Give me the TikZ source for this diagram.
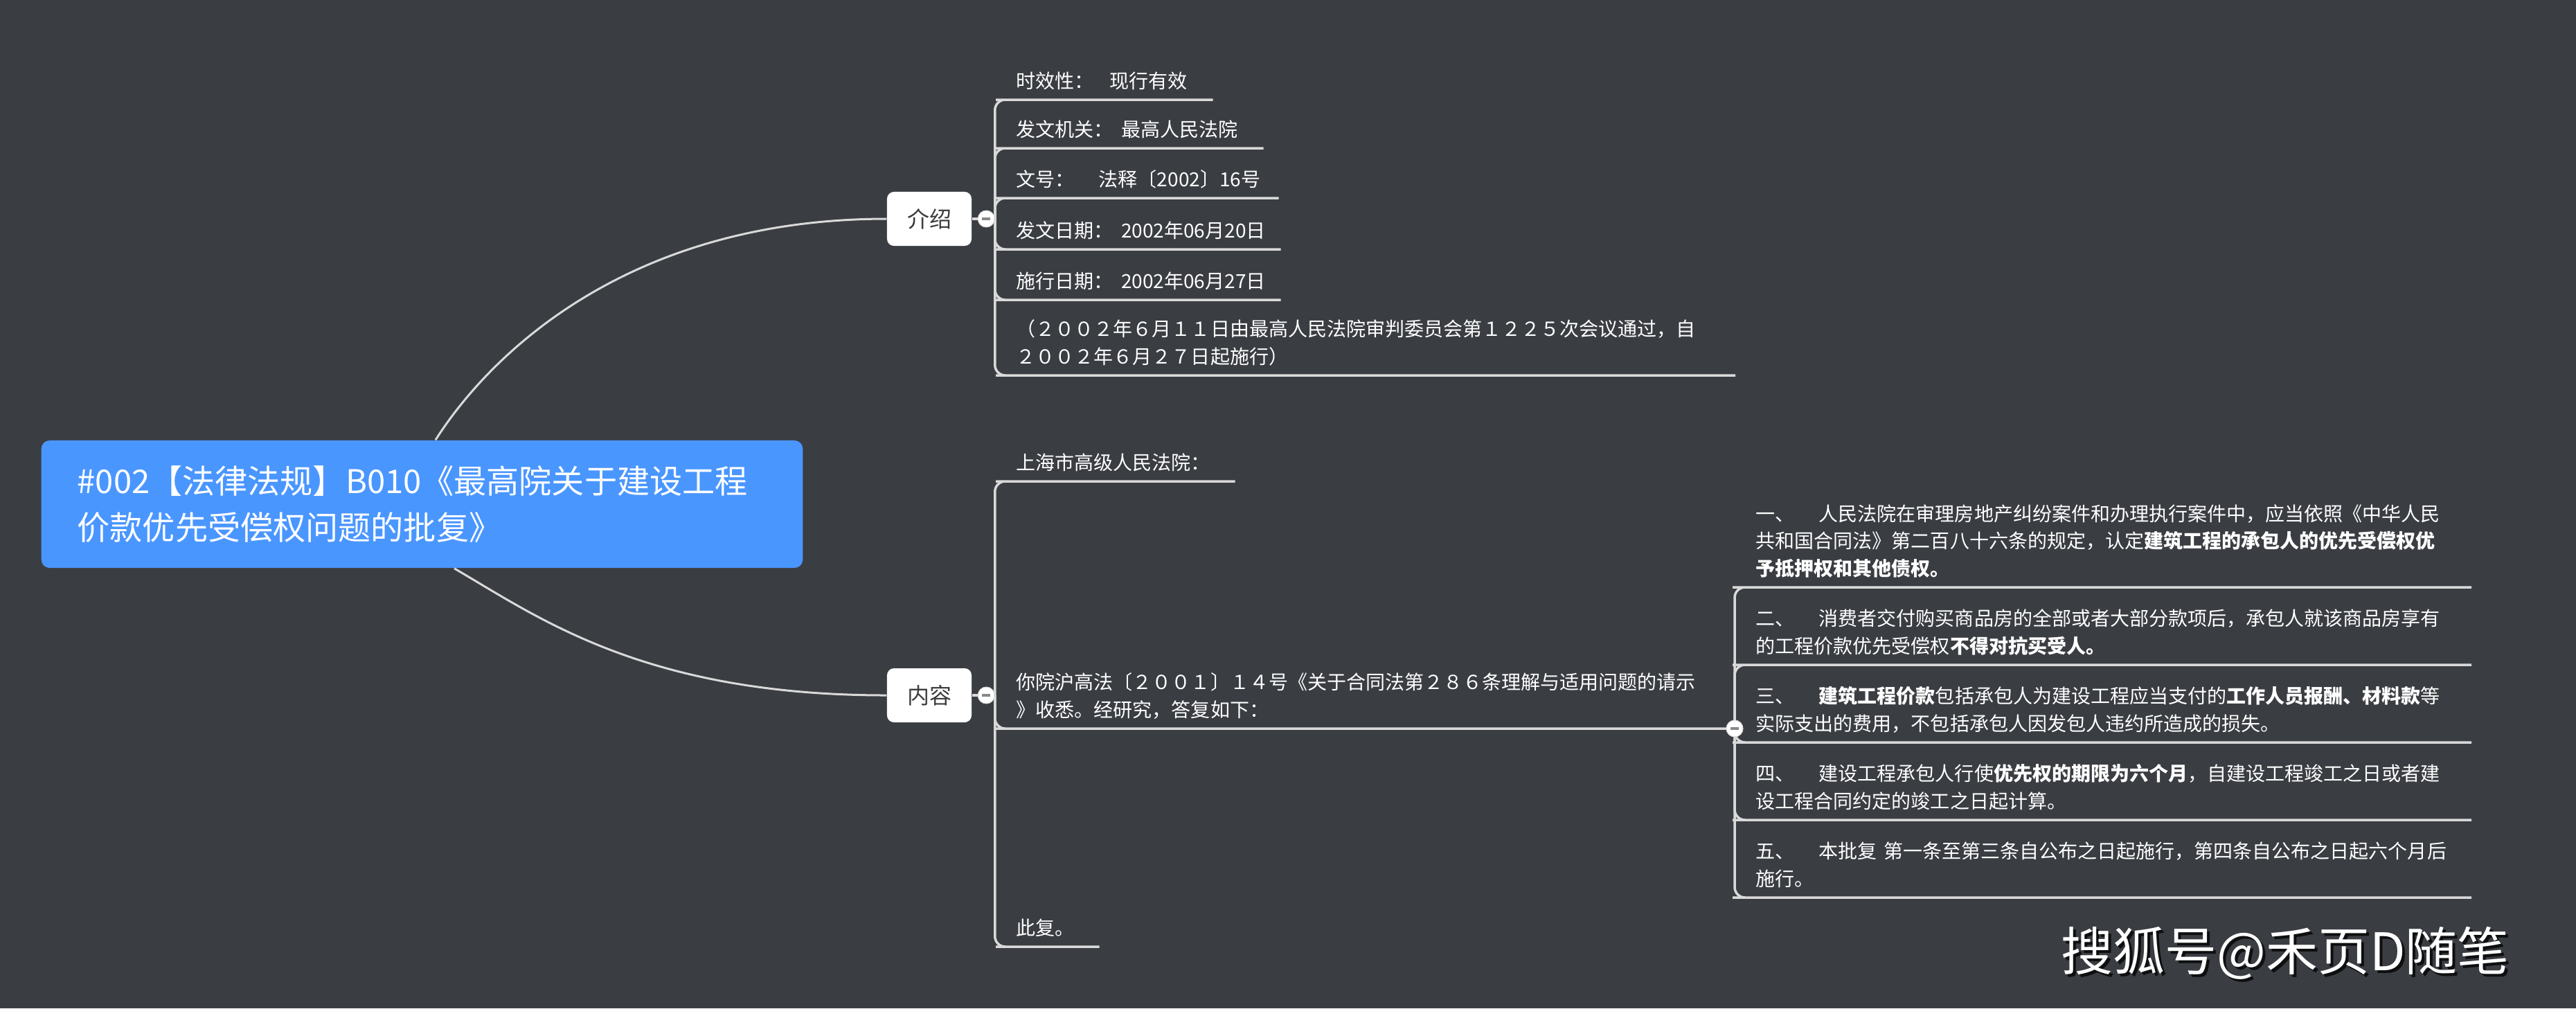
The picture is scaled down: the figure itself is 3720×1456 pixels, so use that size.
\documentclass[tikz,border=0pt]{standalone}
\usepackage{fontspec}
\setmainfont{Noto Sans CJK SC}
\usetikzlibrary{positioning,calc}
\definecolor{canvas}{RGB}{58,61,66}
\definecolor{rootblue}{RGB}{74,150,255}
\definecolor{linegray}{RGB}{217,217,217}
\definecolor{topictext}{RGB}{60,60,60}
\definecolor{dashgray}{RGB}{136,136,136}
\newcommand{\leaffont}{\fontsize{7.97pt}{11.24pt}\selectfont}
\newcommand{\foldbar}{\textcolor{dashgray}{\rule{0.12cm}{0.035cm}}}
\tikzset{
  root/.style={rectangle,rounded corners=0.12cm,fill=rootblue,text=white,
    text width=9.95cm,align=left,minimum height=1.84cm,inner xsep=0.52cm,inner ysep=0pt,
    font=\fontsize{13.4pt}{19.06pt}\selectfont},
  topic/.style={rectangle,rounded corners=0.1cm,fill=white,text=topictext,
    minimum width=1.22cm,minimum height=0.78cm,inner sep=0pt,
    font=\fontsize{9.1pt}{11pt}\selectfont},
  fold/.style={circle,fill=white,draw=linegray,line width=0.01cm,minimum size=0.24cm,inner sep=0pt},
  leaf/.style={anchor=south west,align=left,text=white,inner xsep=0.14cm,inner ysep=0.04cm,
    font=\leaffont,execute at end node=\strut},
  subleaf/.style={leaf,inner xsep=0.18cm,text width=10.14cm},
  link/.style={draw=linegray,line width=0.035cm},
  elbow/.style={rounded corners=0.15cm,
    to path={|- (\tikztotarget.south west) -- (\tikztotarget.south east)}},
  curve/.style={draw=linegray,line width=0.03cm},
  stamp/.style={font=\fontsize{21.3pt}{24pt}\selectfont,text=white,inner sep=0pt}
}
\begin{document}
\begin{tikzpicture}[x=0.01cm,y=-0.01cm]
\fill[canvas] (0,0) rectangle (3720,1456);
% central topic and the two branches
\node[root] (root) at (609.5,728) {\#002【法律法规】B010《最高院关于建设工程\\价款优先受偿权问题的批复》};
\node[topic] (intro) at (1342,316) {介绍};
\node[topic] (body) at (1342,1004) {内容};
\node[fold,right=0.08cm of intro] (intro-fold) {\foldbar};
\node[fold,right=0.08cm of body] (body-fold) {\foldbar};
\path[curve] ($(root.north west)+(570,0)$) .. controls +(80,-126) and +(-371,0) .. (intro.west);
\path[curve] ($(root.south west)+(597,0)$) .. controls +(121.5,70.5) and +(-350,0) .. (body.west);
\path[link] (intro) -- (intro-fold) (body) -- (body-fold);
% 介绍
\node[leaf,text width=2.69cm] (c1) at (1453,144) {时效性：\kern0.8em 现行有效};
\node[leaf,text width=3.42cm] (c2) at (1453,214) {发文机关：\kern0.4em 最高人民法院};
\node[leaf,text width=3.64cm] (c3) at (1453,286) {文号：\kern1.25em 法释〔2002〕16号};
\node[leaf,text width=3.67cm] (c4) at (1453,360) {发文日期：\kern0.4em 2002年06月20日};
\node[leaf,text width=3.67cm] (c5) at (1453,433) {施行日期：\kern0.4em 2002年06月27日};
\node[leaf,text width=10.23cm] (c6) at (1453,542) {（２００２年６月１１日由最高人民法院审判委员会第１２２５次会议通过，自\\２００２年６月２７日起施行）};
\path[link] (intro-fold.east)
  edge[elbow] (c1) edge[elbow] (c2) edge[elbow] (c3)
  edge[elbow] (c4) edge[elbow] (c5) edge[elbow] (c6);
% 内容
\node[leaf,text width=3.01cm] (d1) at (1453,695) {上海市高级人民法院：};
\node[leaf,text width=10.22cm] (d2) at (1453,1052) {你院沪高法〔２００１〕１４号《关于合同法第２８６条理解与适用问题的请示\\》收悉。经研究，答复如下：};
\node[leaf,text width=1.05cm] (d3) at (1453,1367) {此复。};
\path[link] (body-fold.east)
  edge[elbow] (d1) edge[elbow] (d2) edge[elbow] (d3);
% 答复五条
\node[subleaf] (e1) at (2517,848) {一、\kern1.25em 人民法院在审理房地产纠纷案件和办理执行案件中，应当依照《中华人民\\共和国合同法》第二百八十六条的规定，认定\textbf{建筑工程的承包人的优先受偿权优\\予抵押权和其他债权。}};
\node[subleaf] (e2) at (2517,960) {二、\kern1.25em 消费者交付购买商品房的全部或者大部分款项后，承包人就该商品房享有\\的工程价款优先受偿权\textbf{不得对抗买受人。}};
\node[subleaf] (e3) at (2517,1072) {三、\kern1.25em \textbf{建筑工程价款}包括承包人为建设工程应当支付的\textbf{工作人员报酬、材料款}等\\实际支出的费用，不包括承包人因发包人违约所造成的损失。};
\node[subleaf] (e4) at (2517,1184) {四、\kern1.25em 建设工程承包人行使\textbf{优先权的期限为六个月}，自建设工程竣工之日或者建\\设工程合同约定的竣工之日起计算。};
\node[subleaf] (e5) at (2517,1296) {五、\kern1.25em 本批复 第一条至第三条自公布之日起施行，第四条自公布之日起六个月后\\施行。};
\path[link] (d2.south east)
  edge[elbow] (e1) edge[elbow] (e2) edge[elbow] (e3)
  edge[elbow] (e4) edge[elbow] (e5);
\node[fold] (sub-fold) at (d2.south east) {\foldbar};
% watermark
\node[stamp,text=black,opacity=0.75] (wm-shadow) at (3304,1380) {搜狐号@禾页D随笔};
\node[stamp] (wm) at (3300,1376) {搜狐号@禾页D随笔};
\end{tikzpicture}
\end{document}
